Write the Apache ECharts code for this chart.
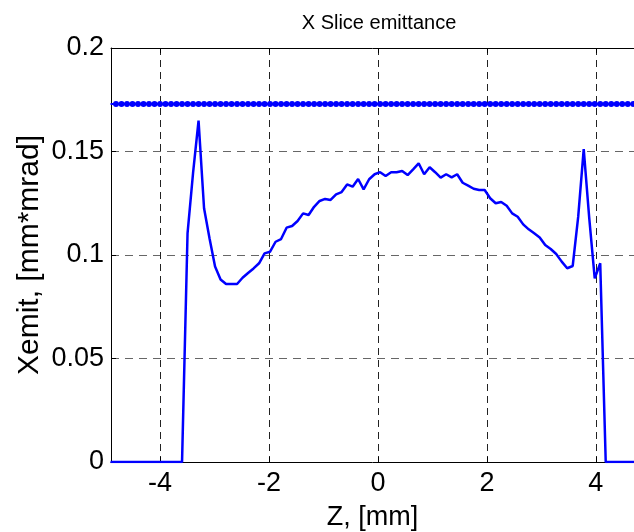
<!DOCTYPE html>
<html lang="en">
<head>
<meta charset="utf-8">
<title>X Slice emittance</title>
<script src="https://cdn.jsdelivr.net/npm/echarts@6/dist/echarts.min.js"></script>
<style>
html, body { margin: 0; padding: 0; background: #fff; }
#chart { width: 634px; height: 532px; }
</style>
</head>
<body>
<div id="chart"></div>
<script>
// slice positions, mm
var zs = [
  -4.909, -4.808, -4.707, -4.606, -4.505, -4.404, -4.303, -4.202, -4.101, -4.000,
  -3.899, -3.798, -3.697, -3.596, -3.495, -3.394, -3.293, -3.192, -3.091, -2.990,
  -2.889, -2.788, -2.687, -2.586, -2.485, -2.384, -2.283, -2.182, -2.081, -1.980,
  -1.879, -1.778, -1.677, -1.576, -1.475, -1.374, -1.273, -1.172, -1.071, -0.970,
  -0.869, -0.768, -0.667, -0.566, -0.465, -0.364, -0.263, -0.162, -0.061, 0.040,
  0.141, 0.242, 0.343, 0.444, 0.545, 0.646, 0.747, 0.848, 0.949, 1.050,
  1.151, 1.252, 1.353, 1.454, 1.555, 1.656, 1.757, 1.858, 1.959, 2.060,
  2.161, 2.262, 2.363, 2.464, 2.565, 2.666, 2.767, 2.868, 2.969, 3.070,
  3.171, 3.272, 3.373, 3.474, 3.575, 3.676, 3.777, 3.878, 3.979, 4.080,
  4.181, 4.282, 4.383, 4.484, 4.585, 4.686, 4.787, 4.888, 4.989
];
// slice emittance, mm*mrad
var xemit = [
  0, 0, 0, 0, 0, 0, 0, 0, 0, 0,
  0, 0, 0, 0, 0.1105, 0.1395, 0.1649, 0.1226, 0.108, 0.0944,
  0.0882, 0.086, 0.086, 0.086, 0.089, 0.0913, 0.0935, 0.096, 0.1008, 0.1016,
  0.1064, 0.1077, 0.1132, 0.114, 0.1164, 0.1201, 0.1193, 0.1233, 0.1261, 0.1271,
  0.1266, 0.1293, 0.1304, 0.1341, 0.133, 0.1367, 0.1317, 0.1366, 0.139, 0.140,
  0.1382, 0.140, 0.140, 0.1406, 0.1386, 0.1414, 0.1443, 0.139, 0.1424, 0.140,
  0.1374, 0.139, 0.1375, 0.139, 0.1349, 0.1335, 0.132, 0.1314, 0.1314, 0.1274,
  0.125, 0.1256, 0.1238, 0.1201, 0.1185, 0.1148, 0.1124, 0.1105, 0.1085, 0.1048,
  0.1029, 0.1005, 0.0968, 0.0936, 0.0947, 0.1185, 0.1511, 0.1179, 0.0887, 0.096,
  0, 0, 0, 0, 0, 0, 0, 0, 0
];
// projected emittance level (dotted line)
var projEmit = 0.173;

var xTicks = [-4, -2, 0, 2, 4];

var FONT = "'Liberation Sans', Arial, sans-serif";

// the plot box runs past the right edge of the figure, so the visible
// x range stops short of +4.9
var X_MIN = -4.9;
var X_MAX = 4.7;

var chart = echarts.init(document.getElementById('chart'), null, { renderer: 'canvas' });
chart.setOption({
  animation: false,
  backgroundColor: '#fff',
  title: {
    text: 'X Slice emittance',
    left: 374,
    top: 8,
    textAlign: 'center',
    textStyle: { fontFamily: FONT, fontSize: 20, fontWeight: 'normal', color: '#000' }
  },
  grid: {
    left: 111,
    top: 48,
    right: 0,
    height: 414,
    show: false,
    outerBoundsMode: 'none'
  },
  xAxis: [{
    type: 'value',
    min: X_MIN,
    max: X_MAX,
    name: 'Z, [mm]',
    nameLocation: 'middle',
    nameGap: 42,
    nameTextStyle: { fontFamily: FONT, fontSize: 27, color: '#000' },
    axisLine: { show: true, onZero: false, lineStyle: { color: '#000', width: 1 } },
    axisTick: { show: true, inside: true, length: 5, customValues: xTicks, lineStyle: { color: '#000' } },
    axisLabel: { customValues: xTicks, margin: 8, fontFamily: FONT, fontSize: 27, color: '#000' },
    splitLine: { show: true, lineStyle: { color: '#222', type: [7, 5], width: 1 } }
  }, {
    // top edge of the box
    type: 'value',
    position: 'top',
    min: X_MIN,
    max: X_MAX,
    axisLine: { show: true, onZero: false, lineStyle: { color: '#000', width: 1 } },
    axisTick: { show: true, inside: true, length: 5, customValues: xTicks, lineStyle: { color: '#000' } },
    axisLabel: { show: false },
    splitLine: { show: false }
  }],
  yAxis: {
    type: 'value',
    min: 0,
    max: 0.2,
    interval: 0.05,
    name: 'Xemit, [mm*mrad]',
    nameLocation: 'middle',
    nameGap: 66,
    nameMoveOverlap: false,
    nameTextStyle: { fontFamily: FONT, fontSize: 30, color: '#000' },
    axisLine: { show: true, onZero: false, lineStyle: { color: '#000', width: 1 } },
    axisTick: { show: true, inside: true, length: 5, lineStyle: { color: '#000' } },
    axisLabel: { margin: 7, fontFamily: FONT, fontSize: 27, color: '#000' },
    splitLine: { show: true, lineStyle: { color: '#666', type: [8, 6], width: 1 } }
  },
  series: [
    {
      name: 'projected',
      type: 'line',
      data: zs.map(function (z) { return [z, projEmit]; }),
      showAllSymbol: true,
      symbol: 'circle',
      symbolSize: 6,
      itemStyle: { color: '#0000ff' },
      lineStyle: { color: '#0000ff', width: 2 },
      clip: true
    },
    {
      name: 'slice',
      type: 'line',
      data: zs.map(function (z, i) { return [z, xemit[i]]; }),
      showSymbol: false,
      lineStyle: { color: '#0000ff', width: 2.5 },
      clip: true
    }
  ]
});
</script>
</body>
</html>
